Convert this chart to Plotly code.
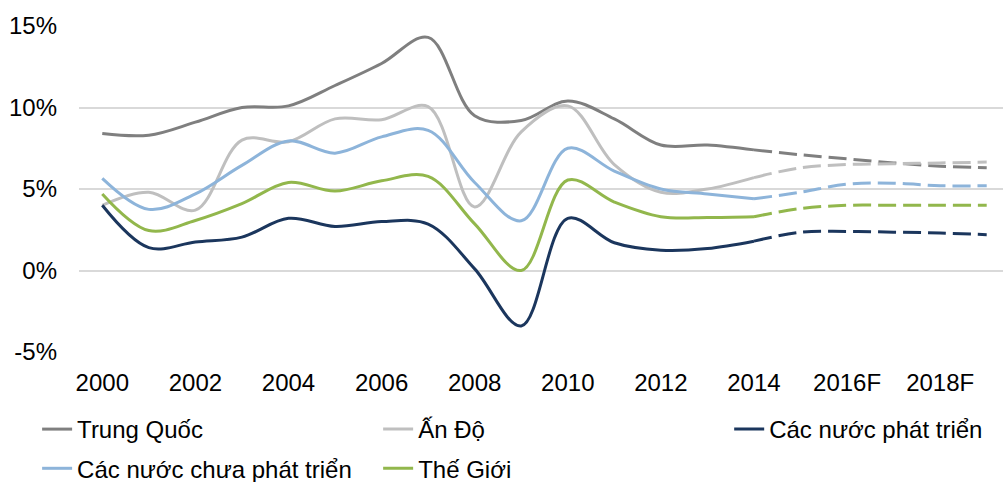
import plotly.graph_objects as go

categories = ["2000", "2001", "2002", "2003", "2004", "2005", "2006", "2007", "2008", "2009",
              "2010", "2011", "2012", "2013", "2014", "2015F", "2016F", "2017F", "2018F", "2019F"]
tick_labels = ["2000", "", "2002", "", "2004", "", "2006", "", "2008", "", "2010", "", "2012", "",
               "2014", "", "2016F", "", "2018F", ""]

trung_quoc = [8.4, 8.3, 9.1, 10.0, 10.1, 11.35, 12.7, 14.3, 9.5, 9.2,
              10.4, 9.3, 7.7, 7.7, 7.4, 7.1, 6.85, 6.6, 6.4, 6.3]
an_do = [4.0, 4.8, 3.7, 8.0, 7.9, 9.3, 9.25, 10.05, 3.9, 8.5,
         10.1, 6.5, 4.8, 5.0, 5.7, 6.3, 6.5, 6.55, 6.6, 6.65]
phat_trien = [4.0, 1.4, 1.75, 2.05, 3.2, 2.7, 3.0, 2.85, 0.1, -3.4,
              3.2, 1.7, 1.25, 1.35, 1.8, 2.35, 2.4, 2.35, 2.3, 2.2]
chua_phat_trien = [5.65, 3.75, 4.7, 6.45, 7.95, 7.2, 8.2, 8.6, 5.4, 3.05,
                   7.5, 6.1, 5.0, 4.7, 4.4, 4.8, 5.3, 5.35, 5.2, 5.2]
the_gioi = [4.7, 2.45, 3.07, 4.1, 5.4, 4.87, 5.5, 5.77, 2.86, 0.0,
            5.55, 4.2, 3.3, 3.25, 3.3, 3.8, 4.0, 4.0, 4.0, 4.0]

series = [
    ("Trung Quốc", trung_quoc, "#7f7f7f", "legend"),
    ("Ấn Độ", an_do, "#bfbfbf", "legend2"),
    ("Các nước phát triển", phat_trien, "#1b365d", "legend3"),
    ("Các nước chưa phát triển", chua_phat_trien, "#8db4da", "legend"),
    ("Thế Giới", the_gioi, "#92b74c", "legend2"),
]

split = categories.index("2014")
xs = list(range(len(categories)))

fig = go.Figure()
for i, (name, vals, color, leg) in enumerate(series):
    fig.add_trace(go.Scatter(
        x=xs[:split + 1], y=vals[:split + 1], mode="lines", name=name,
        line=dict(color=color, width=3, shape="spline", smoothing=1.0),
        legend=leg, legendgroup=f"g{i}", showlegend=True, hoverinfo="skip"))
    fig.add_trace(go.Scatter(
        x=xs[split:], y=vals[split:], mode="lines", name=name,
        line=dict(color=color, width=3, shape="spline", smoothing=1.0, dash="18px,7px"),
        legend=leg, legendgroup=f"g{i}", showlegend=False, hoverinfo="skip"))

font = dict(family="Liberation Sans, Arial, sans-serif", size=24, color="#000000")
leg_common = dict(orientation="v", xref="container", yref="container", yanchor="top",
                  xanchor="left", font=font, bgcolor="rgba(0,0,0,0)",
                  tracegroupgap=5, itemwidth=30)

fig.update_layout(
    width=1003, height=482,
    margin=dict(l=79, r=0, t=26, b=130, autoexpand=False),
    paper_bgcolor="white", plot_bgcolor="white",
    font=font,
    showlegend=True,
    legend=dict(x=0.037, y=1 - 407 / 482, **leg_common),
    legend2=dict(x=0.377, y=1 - 407 / 482, **leg_common),
    legend3=dict(x=0.727, y=1 - 407 / 482, **leg_common),
    xaxis=dict(range=[-0.5, 19.35], tickmode="array", tickvals=xs, ticktext=tick_labels,
               showgrid=False, zeroline=False, showline=False, ticks="",
               ticklabelstandoff=14, tickfont=font, tickangle=0),
    yaxis=dict(range=[-5, 15], tickvals=[-5, 0, 5, 10, 15],
               ticktext=["-5%", "0%", "5%", "10%", "15%"],
               showgrid=True, gridcolor="#d9d9d9", gridwidth=1.5,
               zeroline=False, showline=False, ticks="",
               ticklabelstandoff=21, tickfont=font),
)

fig.write_html("out.html", config={"displayModeBar": False},
               post_script="document.body.style.margin='0px';document.body.style.overflow='hidden';")
